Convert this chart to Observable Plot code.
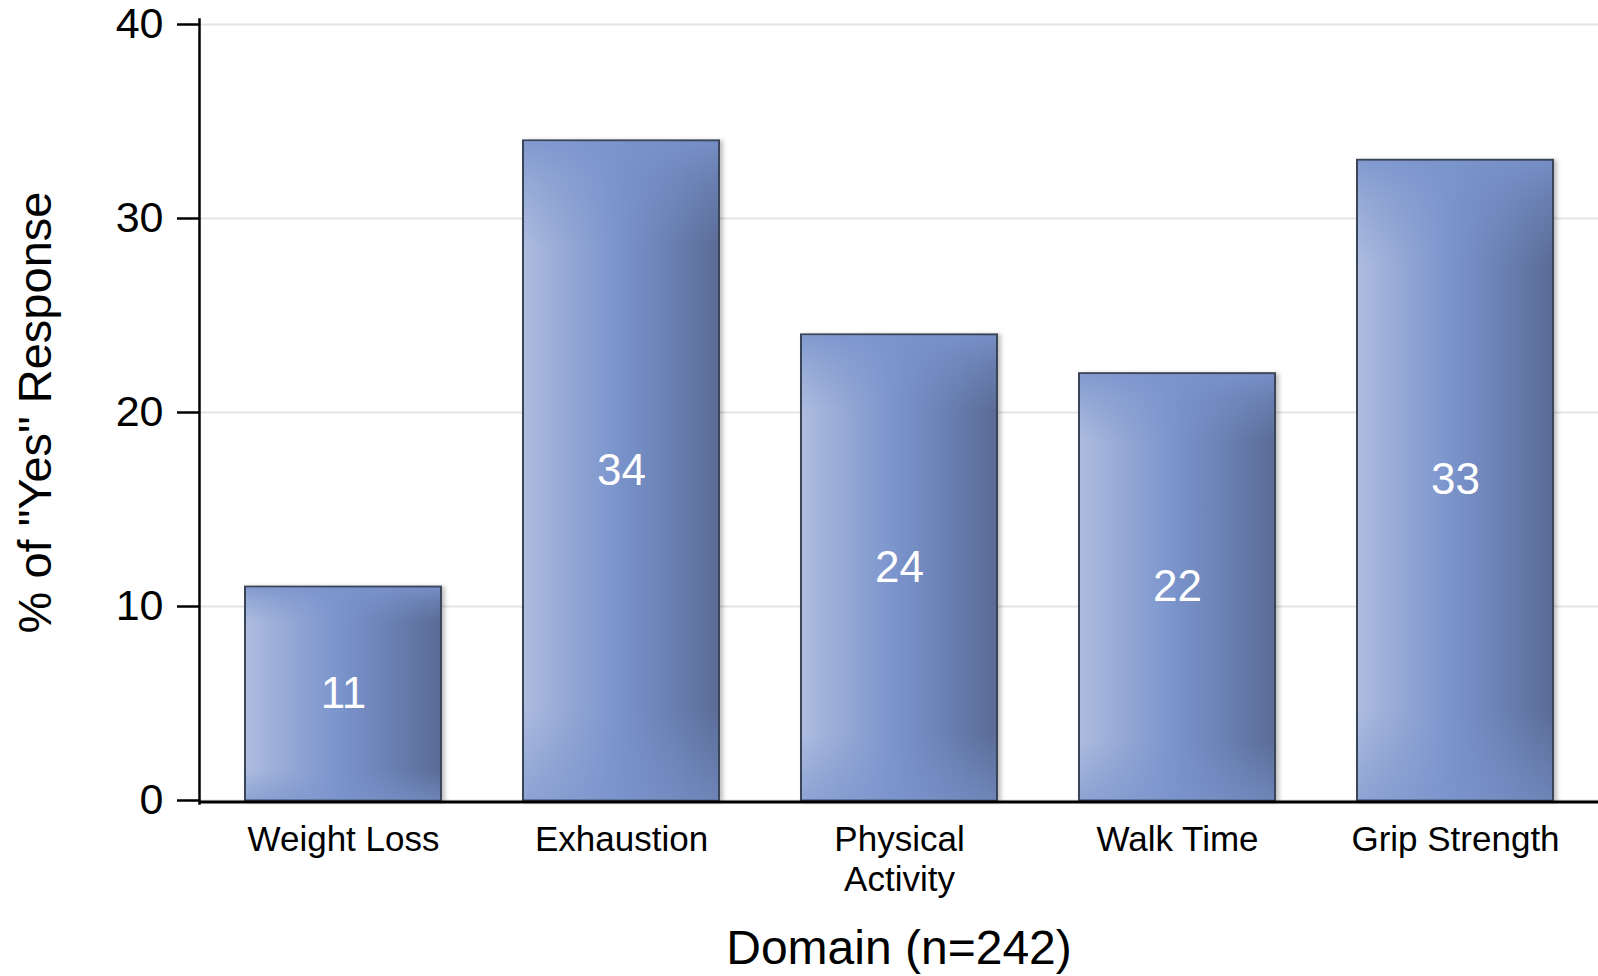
<!DOCTYPE html>
<html><head><meta charset="utf-8">
<script src="https://cdn.jsdelivr.net/npm/d3@7"></script>
<script src="https://cdn.jsdelivr.net/npm/@observablehq/plot@0.6"></script>
<style>body{margin:0;background:#fff} svg{display:block}</style>
</head><body><div id="chart"></div>
<script>
const domains = ["Weight Loss", "Exhaustion", "Physical Activity", "Walk Time", "Grip Strength"];
const tickLabels = ["Weight Loss", "Exhaustion", "Physical\nActivity", "Walk Time", "Grip Strength"];
const yesPercent = [11, 34, 24, 22, 33];
const yTicks = [0, 10, 20, 30, 40];
const yLabel = '% of "Yes" Response';
const xLabel = "Domain (n=242)";

const data = domains.map((d, i) => ({domain: d, value: yesPercent[i]}));
const labelOf = new Map(domains.map((d, i) => [d, tickLabels[i]]));
const FONT = "'Liberation Sans', Arial, sans-serif";

const plot = Plot.plot({
  width: 1598, height: 976,
  marginLeft: 199, marginRight: 0, marginTop: 24, marginBottom: 176,
  style: {fontFamily: FONT, background: "#fff", color: "#000", overflow: "visible"},
  x: {domain: domains, paddingInner: 0.295, paddingOuter: 0.16},
  y: {domain: [0, 40]},
  marks: [
    Plot.gridY(yTicks, {stroke: "#e4e4e4", strokeOpacity: 1, strokeWidth: 2}),
    Plot.barY(data, {x: "domain", y: "value", fill: "url(#barGrad)", stroke: "#3b4459", strokeWidth: 2, className: "basebar"}),
    Plot.barY(data, {x: "domain", y: "value", fill: "url(#barSheen)", insetLeft: 1, insetRight: 1, insetTop: 1}),
    Plot.text(data, {x: "domain", y: d => d.value / 2, text: d => String(d.value), fill: "white", fontSize: 44}),
    Plot.axisY(yTicks, {tickSize: 22, tickPadding: 14, fontSize: 43, strokeWidth: 2.5, tickFormat: d => String(d), label: null}),
    Plot.axisX({tickSize: 0, tickPadding: 22, fontSize: 35, lineHeight: 1.14, tickFormat: d => labelOf.get(d), label: null}),
    Plot.frame({anchor: "left", stroke: "#000", strokeWidth: 2.5, insetTop: -5, insetBottom: -3}),
    Plot.ruleY([0], {stroke: "#000", strokeWidth: 3, dy: 1.5}),
    Plot.text([yLabel], {frameAnchor: "left", textAnchor: "middle", rotate: -90, dx: -164, fontSize: 47, fill: "#000"}),
    Plot.text([xLabel], {frameAnchor: "bottom", textAnchor: "middle", dy: 163, fontSize: 48, fill: "#000"})
  ]
});

const svg = d3.select(plot);
const defs = svg.insert("defs", ":first-child");
const g = defs.append("linearGradient").attr("id", "barGrad").attr("x1", 0).attr("x2", 1).attr("y1", 0).attr("y2", 0);
[[0, "#adbcdf"], [0.2, "#98aad6"], [0.48, "#7a94cc"], [0.75, "#6a80b2"], [1, "#5a6b96"]].forEach(([o, c]) =>
  g.append("stop").attr("offset", o).attr("stop-color", c));
const s = defs.append("linearGradient").attr("id", "barSheen").attr("x1", 0).attr("x2", 0).attr("y1", 0).attr("y2", 1);
[[0, 0.85], [0.06, 0.45], [0.16, 0], [0.86, 0], [1, 0.6]].forEach(([o, a]) =>
  s.append("stop").attr("offset", o).attr("stop-color", "#7a94cc").attr("stop-opacity", a));
const f = defs.append("filter").attr("id", "shadow").attr("x", "-10%").attr("y", "-10%").attr("width", "130%").attr("height", "120%");
f.append("feDropShadow").attr("dx", 3).attr("dy", 1).attr("stdDeviation", 2).attr("flood-color", "#000").attr("flood-opacity", 0.25);
svg.selectAll(".basebar").attr("filter", "url(#shadow)");

document.getElementById("chart").appendChild(plot);
</script>
</body></html>
